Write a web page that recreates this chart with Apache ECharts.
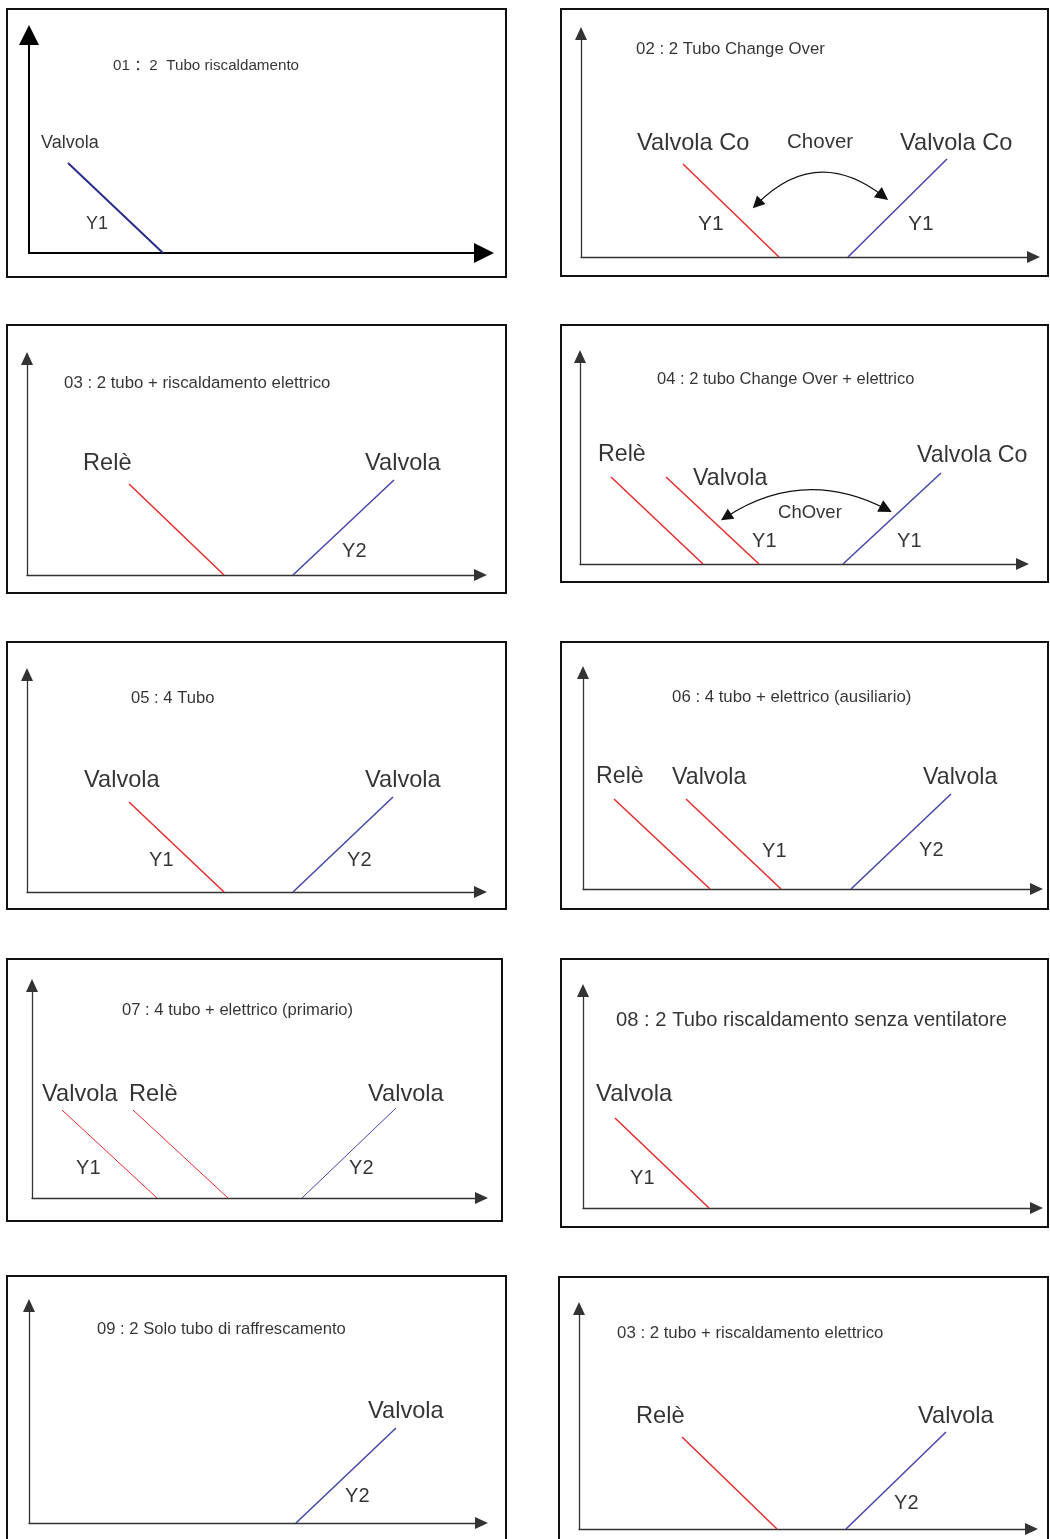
<!DOCTYPE html>
<html>
<head>
<meta charset="utf-8">
<script src="https://cdn.jsdelivr.net/npm/echarts@6/dist/echarts.min.js"></script>
<style>
html,body{margin:0;padding:0;background:#fff;}
#chart{width:1050px;height:1539px;}
</style>
</head>
<body>
<div id="chart"></div>
<script>
// ---------- DATA (values in each panel's own axis units, origin = axis corner) ----------
const titles = [
  "01 \uFF1A2  Tubo riscaldamento",
  "02 : 2 Tubo Change Over",
  "03 : 2 tubo + riscaldamento elettrico",
  "04 : 2 tubo Change Over + elettrico",
  "05 : 4 Tubo",
  "06 : 4 tubo + elettrico (ausiliario)",
  "07 : 4 tubo + elettrico (primario)",
  "08 : 2 Tubo riscaldamento senza ventilatore",
  "09 : 2 Solo tubo di raffrescamento",
  "03 : 2 tubo + riscaldamento elettrico"
];
const titleAt = [[84,187],[55,208],[37,192],[77,185],[104,194],[89,192],[90,188],[33,188],[68,194],[38,196]];

// segments: [x1, y1, x2, y2, output]  output: 'heat' (red) / 'cool' (blue) / 'valve' (dark blue)
const segments = [
  [[39,90,134,0,'valve']],
  [[102,93,198,0,'heat'],[267,0,366,98,'cool']],
  [[102,91,197,0,'heat'],[266,0,367,95,'cool']],
  [[31,87,123,0,'heat'],[86,87,179,0,'heat'],[263,0,361,91,'cool']],
  [[102,90,197,0,'heat'],[266,0,366,95,'cool']],
  [[31,90,127,0,'heat'],[103,90,198,0,'heat'],[268,0,368,95,'cool']],
  [[30,88,125,0,'heat'],[101,88,196,0,'heat'],[270,0,364,90,'cool']],
  [[32,90,126,0,'heat']],
  [[267,0,367,95,'cool']],
  [[103,92,198,0,'heat'],[267,0,367,97,'cool']]
];

// labels: [text, x, y, kind]  kind: 'n' name, 'y' output, 'c' change-over
const labels = [
  [["Valvola",12,110,'n'],["Y1",57,29,'y']],
  [["Valvola Co",56,114,'n'],["Chover",206,115,'c'],["Valvola Co",319,114,'n'],["Y1",117,33,'y'],["Y1",327,33,'y']],
  [["Relè",56,112,'n'],["Valvola",338,112,'n'],["Y2",315,24,'y']],
  [["Relè",18,109,'n'],["Valvola",113,85,'n'],["Valvola Co",337,108,'n'],["ChOver",198,51,'c'],["Y1",172,23,'y'],["Y1",317,23,'y']],
  [["Valvola",57,112,'n'],["Valvola",338,112,'n'],["Y1",122,32,'y'],["Y2",320,32,'y']],
  [["Relè",13,112,'n'],["Valvola",89,111,'n'],["Valvola",340,111,'n'],["Y1",179,38,'y'],["Y2",336,39,'y']],
  [["Valvola",10,104,'n'],["Relè",97,104,'n'],["Valvola",336,104,'n'],["Y1",44,30,'y'],["Y2",317,30,'y']],
  [["Valvola",13,114,'n'],["Y1",47,30,'y']],
  [["Valvola",339,112,'n'],["Y2",316,27,'y']],
  [["Relè",57,113,'n'],["Valvola",339,113,'n'],["Y2",315,26,'y']]
];

// change-over double arrows: [x1, y1, x2, y2] or null
const changeOver = [null,[176,53,302,61],null,[146,47,306,55],null,null,null,null,null,null];

// ---------- LAYOUT / STYLE ----------
// box [x,y,w,h], origin [ox,oy], tip [xTip,yTip], arrow [w,len]
const layout = [
  {box:[7,9,499,268],   o:[29,253],  tip:[494,25],   arrow:[20,20], aw:2,   ac:'#000', ts:15.2, ns:18,   ys:18,   cs:20, lw:{valve:2}},
  {box:[561,9,487,267], o:[581,257], tip:[1040,27],  arrow:[12,13], aw:1.3, ac:'#333', ts:16.8, ns:23.6, ys:21,   cs:20.5, curv:0.44},
  {box:[7,325,499,268], o:[27,575],  tip:[487,352],  arrow:[12,13], aw:1.3, ac:'#333', ts:16.8, ns:23.6, ys:20,   cs:20},
  {box:[561,325,487,257],o:[580,564],tip:[1029,350], arrow:[12,13], aw:1.3, ac:'#333', ts:16.5, ns:23.2, ys:20,   cs:18.5, curv:0.29},
  {box:[7,642,499,267], o:[27,892],  tip:[487,668],  arrow:[12,13], aw:1.3, ac:'#333', ts:16.6, ns:23.6, ys:20,   cs:20},
  {box:[561,642,487,267],o:[583,889],tip:[1043,666], arrow:[12,13], aw:1.3, ac:'#333', ts:16.8, ns:23.2, ys:20,   cs:20},
  {box:[7,959,495,262], o:[32,1198], tip:[488,979],  arrow:[12,13], aw:1.3, ac:'#333', ts:16.6, ns:23.6, ys:20,   cs:20, lwAll:1},
  {box:[561,959,487,268],o:[583,1208],tip:[1043,984],arrow:[12,13], aw:1.3, ac:'#333', ts:20.2, ns:23.8, ys:20,   cs:20},
  {box:[7,1276,499,272],o:[29,1523], tip:[488,1299], arrow:[12,13], aw:1.3, ac:'#333', ts:16.6, ns:23.6, ys:20,   cs:20},
  {box:[559,1277,489,272],o:[579,1529],tip:[1038,1302],arrow:[12,13],aw:1.3, ac:'#333', ts:16.8, ns:23.6, ys:20,   cs:20}
];
const colors = {heat:'#e42b2b', cool:'#4444a6', valve:'#2b2b8a'};
const FONT = '"Liberation Sans", Arial, "Noto Sans CJK SC", sans-serif';

const grids = [], xAxes = [], yAxes = [], series = [], graphics = [];

layout.forEach(function (L, i) {
  const ox = L.o[0], oy = L.o[1];
  const gw = L.tip[0] - ox - L.arrow[1] / 2;
  const gh = oy - L.tip[1] - L.arrow[1] / 2;
  grids.push({left: ox, top: oy - gh, width: gw, height: gh, containLabel: false});
  const axisCommon = {
    type: 'value', gridIndex: i, min: 0,
    axisLine: {show: true, onZero: false, symbol: ['none', 'triangle'], symbolSize: L.arrow,
               lineStyle: {color: L.ac, width: L.aw}},
    axisTick: {show: false}, axisLabel: {show: false}, splitLine: {show: false}
  };
  xAxes.push(Object.assign({}, axisCommon, {max: gw, position: 'bottom'}));
  yAxes.push(Object.assign({}, axisCommon, {max: gh, position: 'left'}));

  graphics.push({type: 'rect', shape: {x: L.box[0], y: L.box[1], width: L.box[2], height: L.box[3]},
                 style: {fill: 'none', stroke: '#111', lineWidth: 2}, z: 0, silent: true});

  // characteristic lines
  segments[i].forEach(function (s) {
    series.push({
      type: 'lines', coordinateSystem: 'cartesian2d', xAxisIndex: i, yAxisIndex: i,
      silent: true, symbol: ['none', 'none'],
      lineStyle: {color: colors[s[4]], width: L.lwAll || (L.lw && L.lw[s[4]]) || 1.5, opacity: 1},
      data: [{coords: [[s[0], s[1]], [s[2], s[3]]]}]
    });
  });

  // change-over arrow
  if (changeOver[i]) {
    const c = changeOver[i];
    series.push({
      type: 'lines', coordinateSystem: 'cartesian2d', xAxisIndex: i, yAxisIndex: i,
      silent: true, symbol: ['triangle', 'triangle'], symbolSize: [12, 13],
      lineStyle: {color: '#111', width: 1.2, curveness: L.curv, opacity: 1},
      data: [{coords: [[c[0], c[1]], [c[2], c[3]]]}]
    });
  }

  // texts
  const sizeOf = {n: L.ns, y: L.ys, c: L.cs};
  const textData = [{name: titles[i], value: [titleAt[i][0], titleAt[i][1]], label: {fontSize: L.ts}}];
  labels[i].forEach(function (t) {
    textData.push({name: t[0], value: [t[1], t[2]], label: {fontSize: sizeOf[t[3]]}});
  });
  series.push({
    type: 'scatter', xAxisIndex: i, yAxisIndex: i, silent: true,
    symbol: 'circle', symbolSize: 0.1, itemStyle: {color: 'rgba(0,0,0,0)'},
    label: {show: true, position: 'right', distance: 0, formatter: '{b}', color: '#000',
            fontFamily: FONT, align: 'left', verticalAlign: 'middle'},
    data: textData, z: 5
  });
});

const chart = echarts.init(document.getElementById('chart'), null, {renderer: 'canvas'});
chart.setOption({
  animation: false,
  backgroundColor: '#fff',
  textStyle: {fontFamily: FONT},
  grid: grids, xAxis: xAxes, yAxis: yAxes,
  series: series,
  graphic: graphics
});
</script>
</body>
</html>
